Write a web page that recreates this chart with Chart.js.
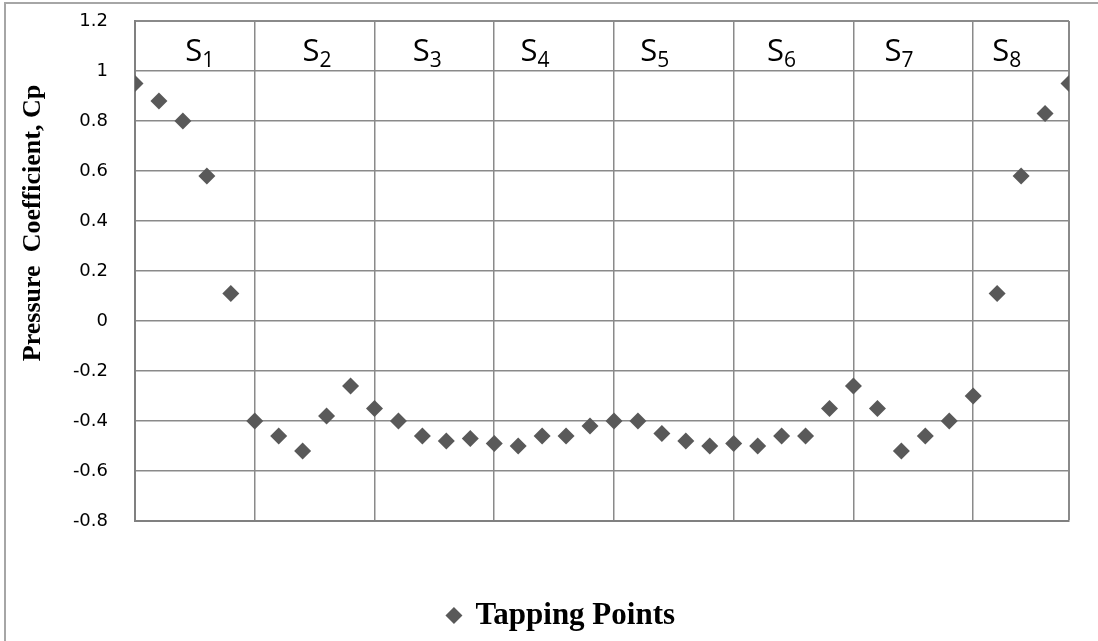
<!DOCTYPE html>
<html>
<head>
<meta charset="utf-8">
<script src="https://cdn.jsdelivr.net/npm/chart.js@4/dist/chart.umd.min.js"></script>
<style>
  body { margin: 0; background: #fff; }
  canvas { display: block; }
</style>
</head>
<body>
<canvas id="cp_chart" width="1098" height="641"></canvas>
<script>
// Tapping point index (0..39) and pressure coefficient
const tapping_points = [
  0, 1, 2, 3, 4, 5, 6, 7, 8, 9,
  10, 11, 12, 13, 14, 15, 16, 17, 18, 19,
  20, 21, 22, 23, 24, 25, 26, 27, 28, 29,
  30, 31, 32, 33, 34, 35, 36, 37, 38, 39
];
const cp_values = [
  0.95, 0.88, 0.80, 0.58, 0.11, -0.40, -0.46, -0.52, -0.38, -0.26,
  -0.35, -0.40, -0.46, -0.48, -0.47, -0.49, -0.50, -0.46, -0.46, -0.42,
  -0.40, -0.40, -0.45, -0.48, -0.50, -0.49, -0.50, -0.46, -0.46, -0.35,
  -0.26, -0.35, -0.52, -0.46, -0.40, -0.30, 0.11, 0.58, 0.83, 0.95
];

// Section boundaries (vertical grid lines) and the S1..S8 labels
const section_bounds = [0, 5, 10, 15, 20, 25, 30, 35, 39];
const section_names = ["1", "2", "3", "4", "5", "6", "7", "8"];
const section_label_x = [2.7, 7.6, 12.2, 16.7, 21.7, 27.0, 31.9, 36.4];
const section_label_y = 1.1;

const y_ticks = [-0.8, -0.6, -0.4, -0.2, 0, 0.2, 0.4, 0.6, 0.8, 1, 1.2];
const y_title = "Pressure  Coefficient, Cp";

const grid_color = "#8a8a8a";
const marker_color = "#595959";

const points = tapping_points.map((x, i) => ({ x: x, y: cp_values[i] }));

// white background + outer frame of the chart object
const frame_plugin = {
  id: "frame",
  beforeDraw(chart) {
    const ctx = chart.ctx;
    ctx.save();
    ctx.fillStyle = "#fff";
    ctx.fillRect(0, 0, chart.width, chart.height);
    ctx.strokeStyle = "#a6a6a6";
    ctx.lineWidth = 2;
    ctx.strokeRect(5, 3, chart.width + 20, chart.height + 20);
    ctx.restore();
  }
};

// section labels S1..S8 with subscripts, and the y title
const text_plugin = {
  id: "texts",
  afterDraw(chart) {
    const ctx = chart.ctx;
    const xs = chart.scales.x;
    const ys = chart.scales.y;
    ctx.save();
    ctx.fillStyle = "#000";
    ctx.textBaseline = "alphabetic";
    ctx.textAlign = "left";
    section_names.forEach((n, i) => {
      const cx = xs.getPixelForValue(section_label_x[i]);
      const cy = ys.getPixelForValue(section_label_y);
      ctx.font = "31px 'Open Sans'";
      const w1 = ctx.measureText("S").width;
      ctx.font = "21px 'Open Sans'";
      const w2 = ctx.measureText(n).width;
      const left = cx - (w1 + w2) / 2;
      ctx.font = "31px 'Open Sans'";
      ctx.fillText("S", left, cy + 15);
      ctx.font = "21px 'Open Sans'";
      ctx.fillText(n, left + w1, cy + 21);
    });

    ctx.translate(33, 223);
    ctx.rotate(-Math.PI / 2);
    ctx.textAlign = "center";
    ctx.textBaseline = "middle";
    ctx.font = "bold 26px 'Liberation Serif'";
    ctx.fillText(y_title, 0, 0);
    ctx.restore();
  }
};

new Chart(document.getElementById("cp_chart"), {
  type: "scatter",
  data: {
    datasets: [{
      label: "Tapping Points",
      data: points,
      pointStyle: "rectRot",
      pointRadius: 8.5,
      pointHoverRadius: 8.5,
      backgroundColor: marker_color,
      borderColor: marker_color,
      borderWidth: 0,
      showLine: false
    }]
  },
  options: {
    responsive: false,
    animation: false,
    layout: { padding: { left: 54, right: 29, top: 21, bottom: 0 } },
    plugins: {
      tooltip: { enabled: false },
      legend: {
        position: "bottom",
        labels: {
          usePointStyle: true,
          boxWidth: 12,
          boxHeight: 12,
          padding: 10,
          color: "#000",
          font: { family: "'Liberation Serif'", size: 31, weight: "bold" }
        }
      }
    },
    scales: {
      x: {
        type: "linear",
        min: 0,
        max: 39,
        afterBuildTicks(scale) {
          scale.ticks = section_bounds.map(v => ({ value: v }));
        },
        afterFit(scale) { scale.height = 69; },
        ticks: { display: false },
        grid: {
          color: grid_color,
          lineWidth: ctx => (ctx.tick && ctx.tick.value === 39 ? 2 : 1.5),
          drawTicks: false
        },
        border: { color: "#808080", width: 2 }
      },
      y: {
        min: -0.8,
        max: 1.2,
        afterBuildTicks(scale) {
          scale.ticks = y_ticks.map(v => ({ value: v }));
        },
        afterFit(scale) { scale.width = 81; },
        ticks: {
          padding: 0,
          color: "#000",
          font: { family: "'DejaVu Sans'", size: 18 },
          callback: v => String(Math.round(v * 10) / 10)
        },
        grid: {
          color: grid_color,
          lineWidth: ctx => (ctx.tick && ctx.tick.value === 1.2 ? 2 : 1.5),
          drawTicks: true,
          tickLength: 27,
          tickColor: "rgba(0,0,0,0)"
        },
        border: { color: "#808080", width: 2 }
      }
    }
  },
  plugins: [frame_plugin, text_plugin]
});
</script>
</body>
</html>
